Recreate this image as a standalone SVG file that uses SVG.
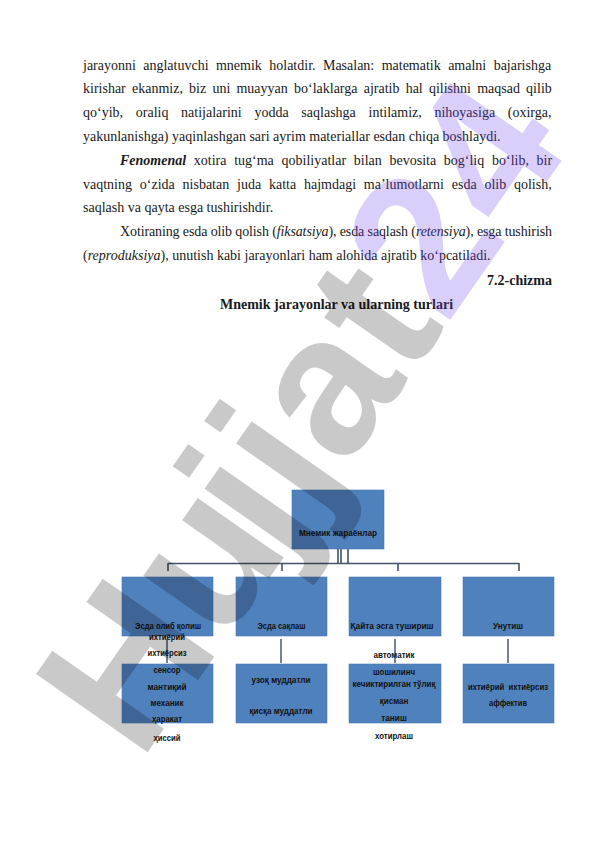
<svg xmlns="http://www.w3.org/2000/svg" width="596" height="842" viewBox="0 0 596 842">
<style>
.p{font-family:"Liberation Serif","Times New Roman",serif;font-size:14px;fill:#1a1a1a}
.b{font-weight:bold}
.i{font-style:italic}
.box{fill:#4f81bd;stroke:#4a7ab5;stroke-width:0.6}
.lb{font-family:"Liberation Sans",Arial,sans-serif;font-size:8.6px;font-weight:bold;fill:#111;text-anchor:middle}
.con{stroke:#44546a;stroke-width:1.6;fill:none}
.con2{stroke:#4a5a72;stroke-width:1.5;fill:none}
.wm{font-family:"Liberation Sans",Arial,sans-serif;font-weight:bold;font-size:198px}
</style>
<rect width="596" height="842" fill="#fff"/>
<g id="text">
<text class="p" x="83" y="69.5" word-spacing="3.9">jarayonni anglatuvchi mnemik holatdir. Masalan: matematik amalni bajarishga</text>
<text class="p" x="83" y="93.3" word-spacing="2.7">kirishar ekanmiz, biz uni muayyan bo‘laklarga ajratib hal qilishni maqsad qilib</text>
<text class="p" x="83" y="117.1" word-spacing="9.2">qo‘yib, oraliq natijalarini yodda saqlashga intilamiz, nihoyasiga (oxirga,</text>
<text class="p" x="83" y="140.9">yakunlanishga) yaqinlashgan sari ayrim materiallar esdan chiqa boshlaydi.</text>
<text class="p" x="120" y="164.7" word-spacing="4.2"><tspan class="b i">Fenomenal</tspan> xotira tug‘ma qobiliyatlar bilan bevosita bog‘liq bo‘lib, bir</text>
<text class="p" x="83" y="188.5" word-spacing="4.3">vaqtning o‘zida nisbatan juda katta hajmdagi ma’lumotlarni esda olib qolish,</text>
<text class="p" x="83" y="212.3">saqlash va qayta esga tushirishdir.</text>
<text class="p" x="120" y="236.1" textLength="432" lengthAdjust="spacing">Xotiraning esda olib qolish (<tspan class="i">fiksatsiya</tspan>), esda saqlash (<tspan class="i">retensiya</tspan>), esga tushirish</text>
<text class="p" x="83" y="259.9">(<tspan class="i">reproduksiya</tspan>), unutish kabi jarayonlari ham alohida ajratib ko‘pcatiladi.</text>
<text class="p b" x="552" y="284.5" text-anchor="end">7.2-chizma</text>
<text class="p b" x="336.5" y="309" text-anchor="middle">Mnemik jarayonlar va ularning turlari</text>
</g>
<g id="connectors">
<path class="con" d="M168 563.5H519M168 563V571M282 563V571M398 563V571M519 563V571M338 549V563.5M341 549V563.5M348 549V563.5"/>
<path class="con2" d="M167 639V663M281 639V663M395 639V663M508 639V663"/>
</g>
<g id="root">
<rect class="box" x="292" y="490" width="92" height="59"/>
<text class="lb" x="338" y="536" textLength="78" lengthAdjust="spacingAndGlyphs">Мнемик жараёнлар</text>
</g>
<g id="n1">
<rect class="box" x="122" y="577" width="91" height="59"/>
<text class="lb" x="168" y="628.8" textLength="66" lengthAdjust="spacingAndGlyphs">Эсда олиб қолиш</text>
</g>
<g id="n2">
<rect class="box" x="236" y="577" width="91" height="59"/>
<text class="lb" x="281.5" y="628.8" textLength="48" lengthAdjust="spacingAndGlyphs">Эсда сақлаш</text>
</g>
<g id="n3">
<rect class="box" x="349" y="577" width="92" height="59"/>
<text class="lb" x="392" y="628.8" textLength="83" lengthAdjust="spacingAndGlyphs">Қайта эсга тушириш</text>
</g>
<g id="n4">
<rect class="box" x="463" y="577" width="91" height="59"/>
<text class="lb" x="508" y="628.8" textLength="30" lengthAdjust="spacingAndGlyphs">Унутиш</text>
</g>
<g id="n1a">
<rect class="box" x="122" y="664" width="91" height="59"/>
<text class="lb" x="167" y="640" textLength="36" lengthAdjust="spacingAndGlyphs">ихтиёрий</text>
<text class="lb" x="167" y="656.3" textLength="39" lengthAdjust="spacingAndGlyphs">ихтиёрсиз</text>
<text class="lb" x="167" y="673" textLength="27" lengthAdjust="spacingAndGlyphs">сенсор</text>
<text class="lb" x="167" y="690.3" textLength="39" lengthAdjust="spacingAndGlyphs">мантиқий</text>
<text class="lb" x="167" y="706.3" textLength="33" lengthAdjust="spacingAndGlyphs">механик</text>
<text class="lb" x="167" y="722.3" textLength="30" lengthAdjust="spacingAndGlyphs">ҳаракат</text>
<text class="lb" x="167" y="740.7" textLength="27" lengthAdjust="spacingAndGlyphs">ҳиссий</text>
</g>
<g id="n2a">
<rect class="box" x="236" y="664" width="91" height="59"/>
<text class="lb" x="281" y="683" textLength="59" lengthAdjust="spacingAndGlyphs">узоқ муддатли</text>
<text class="lb" x="281" y="714" textLength="63" lengthAdjust="spacingAndGlyphs">қисқа муддатли</text>
</g>
<g id="n3a">
<rect class="box" x="349" y="664" width="92" height="59"/>
<text class="lb" x="394" y="658" textLength="41" lengthAdjust="spacingAndGlyphs">автоматик</text>
<text class="lb" x="394" y="674.7" textLength="42" lengthAdjust="spacingAndGlyphs">шошилинч</text>
<text class="lb" x="394" y="687" textLength="83" lengthAdjust="spacingAndGlyphs">кечиктирилган тўлиқ</text>
<text class="lb" x="394" y="703.7" textLength="28.5" lengthAdjust="spacingAndGlyphs">қисман</text>
<text class="lb" x="394" y="720.7" textLength="25.5" lengthAdjust="spacingAndGlyphs">таниш</text>
<text class="lb" x="394" y="739" textLength="38" lengthAdjust="spacingAndGlyphs">хотирлаш</text>
</g>
<g id="n4a">
<rect class="box" x="463" y="664" width="91" height="59"/>
<text class="lb" x="508" y="689.7" textLength="80" lengthAdjust="spacingAndGlyphs" xml:space="preserve">ихтиёрий  ихтиёрсиз</text>
<text class="lb" x="508" y="706.3" textLength="38" lengthAdjust="spacingAndGlyphs">аффектив</text>
</g>
<g id="watermark">
<text class="wm" transform="translate(140,763) rotate(-55)"><tspan fill="#000" fill-opacity="0.21">Hu<tspan dx="-16">jjat</tspan></tspan><tspan fill="#6a40f0" fill-opacity="0.25">24</tspan></text>
</g>
</svg>
